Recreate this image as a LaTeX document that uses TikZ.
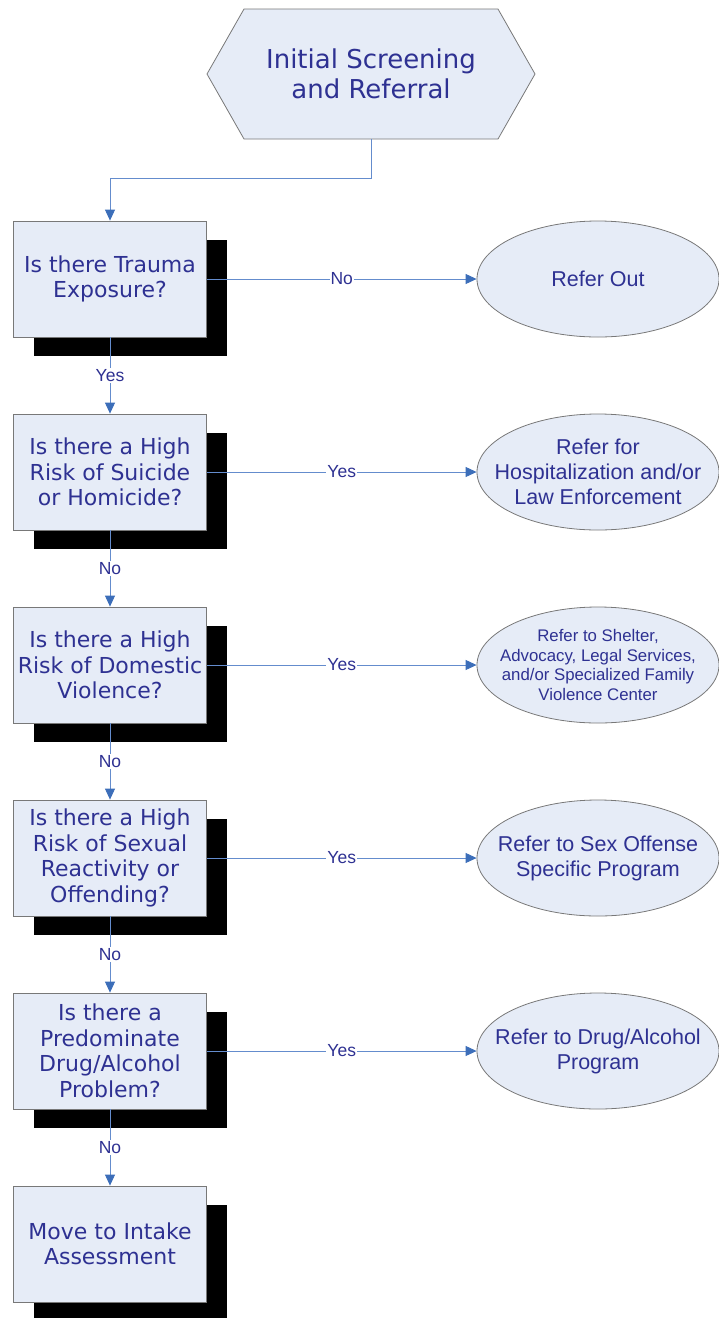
\documentclass[tikz,border=0pt]{standalone}
\usepackage{fontspec}
\newfontfamily\boxfont{DejaVu Sans}
\newfontfamily\ovalfont{Liberation Sans}
\usetikzlibrary{arrows.meta,shapes.geometric,shadows}
\definecolor{boxfill}{RGB}{230,236,247}
\definecolor{textblue}{RGB}{46,49,146}
\definecolor{linkblue}{RGB}{100,140,205}
\definecolor{tipblue}{RGB}{60,110,185}
\definecolor{edgegray}{RGB}{120,120,120}
\tikzset{
  question/.style={draw=edgegray, line width=0.8pt, fill=boxfill, minimum width=193pt, minimum height=116pt,
    inner sep=0pt, align=center, text=textblue, font=\boxfont\fontsize{22}{25.5}\selectfont,
    drop shadow={shadow xshift=20pt, shadow yshift=-19pt, fill=black, opacity=1}},
  referral/.style={ellipse, draw=edgegray, line width=0.8pt, fill=boxfill, minimum width=242pt, minimum height=116pt, inner sep=0pt},
  oval text/.style={align=center, text=textblue, font=\ovalfont\fontsize{21.5}{25}\selectfont},
  link/.style={draw=linkblue, line width=0.9pt, -{Triangle[length=11pt,width=10pt,color=tipblue]}},
  answer/.style={fill=white, inner sep=1pt, text=textblue, font=\ovalfont\fontsize{17.5}{20}\selectfont}
}
\begin{document}
\begin{tikzpicture}[x=1pt, y=-1pt]
\useasboundingbox (0,0) rectangle (718,1318);
% start
\filldraw[fill=boxfill, draw=edgegray, line width=0.8pt] (207,74) -- (244,9) -- (498,9) -- (535,74) -- (498,139) -- (244,139) -- cycle;
\node[minimum width=328pt, minimum height=130pt, align=center, text=textblue, font=\boxfont\fontsize{26}{30}\selectfont] (start) at (371,74) {Initial Screening\\and Referral};
% questions
\node[question] (q1) at (110,279) {Is there Trauma\\Exposure?};
\node[question] (q2) at (110,472) {Is there a High\\Risk of Suicide\\or Homicide?};
\node[question] (q3) at (110,665) {Is there a High\\Risk of Domestic\\Violence?};
\node[question] (q4) at (110,858) {Is there a High\\Risk of Sexual\\Reactivity or\\Offending?};
\node[question] (q5) at (110,1051) {Is there a\\Predominate\\Drug/Alcohol\\Problem?};
\node[question] (q6) at (110,1244) {Move to Intake\\Assessment};
% referrals
\node[referral, label={[oval text]center:{Refer Out}}] (r1) at (598,279) {};
\node[referral, label={[oval text]center:{Refer for\\Hospitalization and/or\\Law Enforcement}}] (r2) at (598,472) {};
\node[referral, label={[oval text, font=\ovalfont\fontsize{16.8}{19.5}\selectfont]center:{Refer to Shelter,\\Advocacy, Legal Services,\\and/or Specialized Family\\Violence Center}}] (r3) at (598,665) {};
\node[referral, label={[oval text]center:{Refer to Sex Offense\\Specific Program}}] (r4) at (598,858) {};
\node[referral, label={[oval text]center:{Refer to Drug/Alcohol\\Program}}] (r5) at (598,1051) {};
% links
\draw[link] (start.south) -- ++(0,39) -| (q1.north);
\foreach \a/\b/\t in {q1/r1/No, q2/r2/Yes, q3/r3/Yes, q4/r4/Yes, q5/r5/Yes}
{
	\draw[link] (\a.east) -- node[answer] {\t} (\b.west);
}
\foreach \a/\b/\t in {q1/q2/Yes, q2/q3/No, q3/q4/No, q4/q5/No, q5/q6/No}
{
	\draw[link] (\a.south) -- node[answer] {\t} (\b.north);
}
\end{tikzpicture}
\end{document}
